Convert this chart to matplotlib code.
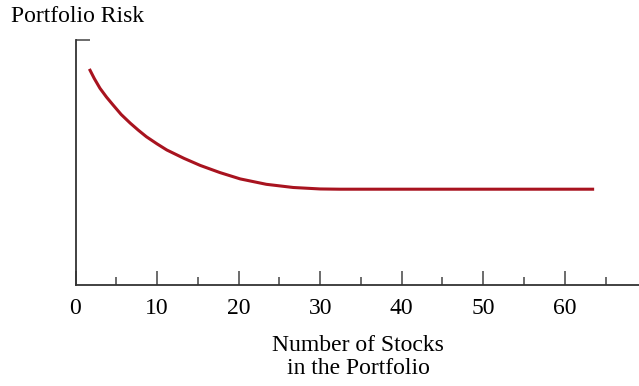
import matplotlib
matplotlib.use("Agg")
import matplotlib.pyplot as plt
from matplotlib.ticker import MultipleLocator

plt.rcParams['font.family'] = ['Liberation Serif', 'DejaVu Serif']

# number of stocks vs. portfolio risk (risk in arbitrary units, top of axis = 100)
n_stocks = [1.7, 2.3, 3.0, 3.8, 4.6, 5.6, 6.7, 7.7, 8.7, 10.0, 11.2, 13.3, 15.3, 17.7, 20.2,
            23.4, 26.7, 30.0, 32.4, 40.0, 50.0, 63.6]
risk = [88.2, 84.3, 80.3, 76.7, 73.5, 69.6, 66.1, 63.2, 60.5, 57.6, 55.1, 51.7, 48.8, 45.9, 43.3,
        41.1, 39.8, 39.2, 39.1, 39.1, 39.1, 39.1]

x_ticks = [0, 10, 20, 30, 40, 50, 60]

fig = plt.figure(figsize=(6.39, 3.86), dpi=100)
ax = fig.add_axes([75.5/639, 101/386, (639-75.5)/639, 245/386])

ax.plot(n_stocks, risk, color='#a8131f', linewidth=2.2, solid_capstyle='butt',
        solid_joinstyle='round')

ax.set_xlim(0, 69.1)
ax.set_ylim(0, 100)

for s in ['top', 'right']:
    ax.spines[s].set_visible(False)
for s in ['left', 'bottom']:
    ax.spines[s].set_color('#333333')
    ax.spines[s].set_linewidth(1.3)

ax.set_xticks(x_ticks)
ax.xaxis.set_minor_locator(MultipleLocator(5))
ax.tick_params(axis='x', which='major', direction='in', length=10, width=1.1,
               color='#444444', labelsize=17, pad=9)
ax.tick_params(axis='x', which='minor', direction='in', length=6, width=1.1, color='#444444')
ax.set_yticks([100])
ax.tick_params(axis='y', direction='in', length=10, width=1.1, color='#444444', labelleft=False)

ax.set_xlabel("Number of Stocks\nin the Portfolio", fontsize=17, linespacing=1.1)
ax.xaxis.set_label_coords(0.502, -0.205)

fig.text(11/639, 1-16/386, "Portfolio Risk", fontsize=17, va='center', ha='left')

fig.savefig("out.png", dpi=100)
